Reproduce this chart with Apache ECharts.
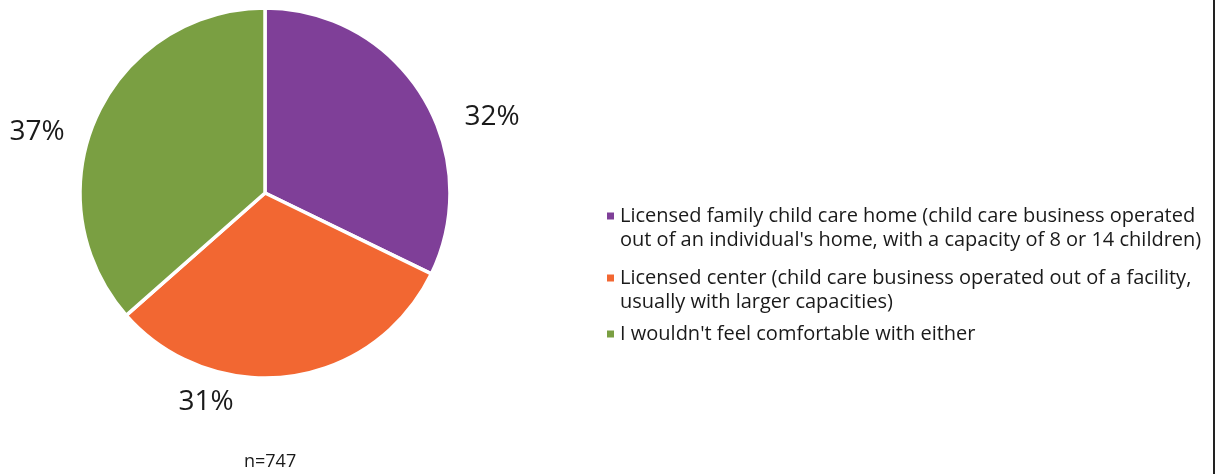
<!DOCTYPE html>
<html>
<head>
<meta charset="utf-8">
<script src="https://cdn.jsdelivr.net/npm/echarts@6/dist/echarts.min.js"></script>
<style>
html,body{margin:0;padding:0;background:#fff;}
#chart{width:1216px;height:474px;}
</style>
</head>
<body>
<div id="chart"></div>
<script>
const categories = [
  "Licensed family child care home (child care business operated\nout of an individual's home, with a capacity of 8 or 14 children)",
  "Licensed center (child care business operated out of a facility,\nusually with larger capacities)",
  "I wouldn't feel comfortable with either"
];
const values = [32.2, 31.3, 36.5];
const colors = ['#7f3f98', '#f26732', '#7a9f42'];
const sampleNote = 'n=747';

const FONT = '"Open Sans", sans-serif';
const labelPos = [[492, 117], [206, 402], [37, 132]];
const markerCenters = [216, 278, 334];
const LH = 24;

const chart = echarts.init(document.getElementById('chart'), null, {renderer: 'canvas'});

const legends = categories.map((name, i) => {
  const lines = name.split('\n').length;
  const total = lines + (lines - 1);
  return {
    orient: 'vertical',
    left: 605,
    top: markerCenters[i] - total * LH / 2,
    padding: 0,
    itemWidth: 9,
    itemHeight: 9,
    itemGap: 0,
    icon: 'rect',
    selectedMode: false,
    data: [name],
    formatter: n => '\n'.repeat(lines - 1) + n,
    textStyle: {
      fontFamily: FONT,
      fontSize: 20,
      lineHeight: LH,
      color: '#1a1a1a'
    }
  };
});

chart.setOption({
  animation: false,
  color: colors,
  title: {
    text: sampleNote,
    left: 244,
    top: 453,
    padding: 0,
    textStyle: {fontFamily: FONT, fontSize: 18, fontWeight: 'normal', color: '#1a1a1a'}
  },
  legend: legends,
  graphic: [{
    type: 'line',
    shape: {x1: 1214, y1: 0, x2: 1214, y2: 474},
    style: {stroke: '#222', lineWidth: 2}
  }],
  series: [{
    type: 'pie',
    center: [265, 193],
    radius: [0, 185],
    startAngle: 90,
    clockwise: true,
    itemStyle: {borderColor: '#fff', borderWidth: 3.5},
    emphasis: {disabled: true},
    labelLine: {show: false},
    label: {
      show: true,
      position: 'outside',
      overflow: 'none',
      edgeDistance: 0,
      formatter: p => Math.round(p.value) + '%',
      fontFamily: FONT,
      fontSize: 28,
      color: '#1a1a1a'
    },
    labelLayout: p => ({
      x: labelPos[p.dataIndex][0],
      y: labelPos[p.dataIndex][1],
      align: 'center',
      verticalAlign: 'middle'
    }),
    data: categories.map((c, i) => ({name: c, value: values[i]}))
  }]
});
</script>
</body>
</html>
